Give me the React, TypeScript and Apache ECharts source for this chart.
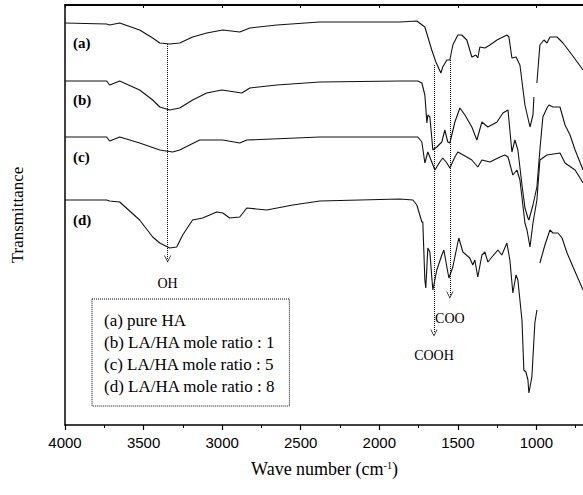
import React, { useEffect, useRef } from "react";
import * as echarts from "echarts";

const seriesNames = [
  "(a) pure HA",
  "(b) LA/HA mole ratio : 1",
  "(c) LA/HA mole ratio : 5",
  "(d) LA/HA mole ratio : 8",
];
const curveTags = ["(a)", "(b)", "(c)", "(d)"];

// [wave number (cm-1), transmittance (a.u.)]; '-' marks a gap in the trace
const curveA: (number | string)[][] = [
  [4000, 402], [3735, 401], [3716, 400], [3652, 402], [3525, 395], [3442, 387], [3397, 382], [3334, 381],
  [3270, 382], [3188, 388], [3098, 392], [2996, 395], [2888, 393], [2824, 397], [2652, 400], [2378, 403],
  [1869, 403], [1761, 404], [1710, 398], [1666, 375], [1640, 363], [1608, 352], [1596, 358], [1570, 365],
  [1551, 365], [1532, 380], [1500, 390], [1475, 390], [1443, 385], [1411, 368], [1385, 370], [1373, 367],
  [1360, 378], [1328, 377], [1296, 380], [1251, 385], [1188, 390], [1175, 388], [1156, 367], [1130, 368],
  [1105, 360], [1073, 320], [1041, 298], [1022, 310], [1016, 328], [1006, "-"], [997, 342], [978, 380],
  [952, 385], [933, 382], [914, 388], [869, 388], [831, 382], [773, 370], [703, 355],
];
const curveB: (number | string)[][] = [
  [4000, 344], [3735, 344], [3716, 340], [3652, 344], [3525, 335], [3442, 325], [3397, 318], [3334, 315],
  [3270, 317], [3188, 325], [3098, 332], [3002, 335], [2875, 332], [2824, 337], [2652, 340], [2378, 343],
  [1869, 344], [1755, 344], [1729, 342], [1710, 330], [1697, 302], [1691, 310], [1678, 308], [1659, 275],
  [1634, 278], [1602, 283], [1583, 295], [1564, 283], [1551, 282], [1519, 303], [1487, 317], [1455, 310],
  [1411, 298], [1379, 285], [1347, 303], [1309, 298], [1251, 303], [1213, 312], [1181, 315], [1156, 273],
  [1137, 285], [1118, 275], [1092, 240], [1073, 217], [1054, 207], [1048, 205], [1022, 220], [997, 238],
  [978, 275], [959, 308], [933, 317], [920, 320], [895, 318], [850, 318], [818, 300], [786, 290],
  [754, 275], [703, 255],
];
const curveC: (number | string)[][] = [
  [4000, 288], [3735, 288], [3716, 284], [3652, 288], [3525, 282], [3397, 275], [3315, 273], [3270, 275],
  [3143, 285], [2996, 285], [2888, 282], [2843, 285], [2378, 288], [1805, 288], [1755, 288], [1729, 283],
  [1710, 262], [1691, 273], [1666, 263], [1646, 255], [1615, 263], [1596, 267], [1570, 262], [1551, 257],
  [1519, 268], [1500, 273], [1443, 268], [1411, 265], [1373, 258], [1347, 265], [1296, 263], [1232, 268],
  [1201, 270], [1181, 268], [1150, 250], [1124, 255], [1105, 245], [1073, 202], [1060, 195], [1041, 178],
  [1022, 202], [997, 225], [978, 265], [933, 270], [850, 272], [818, 262], [754, 255], [703, 242],
];
const curveD: (number | string)[][] = [
  [4000, 225], [3735, 225], [3716, 224], [3652, 223], [3525, 205], [3442, 188], [3397, 182], [3334, 177],
  [3289, 178], [3251, 190], [3188, 205], [3124, 207], [3035, 213], [2996, 212], [2952, 207], [2888, 208],
  [2843, 217], [2716, 215], [2550, 220], [2378, 224], [1869, 226], [1786, 225], [1761, 220], [1729, 203],
  [1723, 203], [1710, 145], [1704, 137], [1691, 177], [1678, 173], [1666, 148], [1659, 135], [1634, 155],
  [1602, 170], [1589, 175], [1570, 158], [1557, 147], [1532, 158], [1506, 178], [1494, 187], [1468, 173],
  [1424, 167], [1405, 160], [1392, 165], [1373, 148], [1347, 170], [1328, 173], [1309, 163], [1283, 168],
  [1245, 175], [1220, 170], [1188, 182], [1169, 165], [1150, 132], [1130, 150], [1118, 145], [1092, 105],
  [1080, 55], [1067, 53], [1054, 45], [1048, 32], [1029, 48], [1010, 102], [997, 115], [988, "-"],
  [978, 162], [946, 180], [914, 195], [895, 192], [863, 192], [837, 187], [805, 172], [767, 158], [703, 135],
];
const curves = [curveA, curveB, curveC, curveD];

// band assignments: wave number, start (on trace) and arrow end
const bandNames = ["OH", "COOH", "COO"];
const bandWave = [3347, 1652, 1551];
const bandFrom = [381, 360, 365];
const bandTo = [166, 92, 130];

const xMin = 500;
const xMax = 4000;
const xStep = 500;
const firstShownTick = 1000;

const SERIF = '"Liberation Serif", "Times New Roman", serif';
const SANS = '"Liberation Sans", Arial, sans-serif';

export default function App() {
  const ref = useRef<HTMLDivElement>(null);
  useEffect(() => {
    if (!ref.current) return;
    const chart = echarts.init(ref.current, undefined, { renderer: "svg" });
    const labelDist = [17, 15, 16];
    const markData = bandNames.map((n, i) => [
      { coord: [bandWave[i], bandFrom[i]] },
      {
        coord: [bandWave[i], bandTo[i]],
        name: n,
        label: { distance: labelDist[i] },
      },
    ]);
    const tagTops = [35, 92, 149, 212];
    const option: any = {
      animation: false,
      backgroundColor: "#fff",
      grid: { left: 65, right: 0, top: 5, bottom: 70, outerBoundsMode: "none", containLabel: false },
      legend: {
        data: seriesNames,
        orient: "vertical",
        left: 92,
        top: 299,
        icon: "none",
        itemWidth: 0,
        itemHeight: 14,
        itemGap: 5,
        padding: [13, 14, 11, 7],
        borderColor: "#000",
        borderWidth: 1,
        borderType: "dotted",
        selectedMode: false,
        textStyle: { fontFamily: SERIF, fontSize: 17, color: "#000" },
      },
      xAxis: [
        {
          type: "value",
          inverse: true,
          min: xMin,
          max: xMax,
          interval: xStep,
          position: "bottom",
          name: "Wave number (cm{sup|-1})",
          nameLocation: "middle",
          nameGap: 35,
          nameTextStyle: {
            fontFamily: SERIF,
            fontSize: 18,
            color: "#000",
            padding: [0, 31, 0, 0],
            rich: {
              sup: { fontFamily: SERIF, fontSize: 10, color: "#000", verticalAlign: "top", padding: [0, 0, 8, 0] },
            },
          },
          axisLine: { show: true, lineStyle: { color: "#000", width: 1.5 } },
          axisTick: { show: true, inside: false, length: 5, lineStyle: { color: "#000", width: 1.2 } },
          minorTick: { show: true, splitNumber: 2, length: 3, lineStyle: { color: "#000", width: 1 } },
          axisLabel: {
            fontFamily: SANS,
            fontSize: 15,
            color: "#000",
            margin: 10,
            formatter: (v: number) => (v < firstShownTick ? "" : String(v)),
          },
          splitLine: { show: false },
        },
        {
          type: "value",
          inverse: true,
          min: xMin,
          max: xMax,
          interval: xStep,
          position: "top",
          axisLine: { show: true, lineStyle: { color: "#000", width: 1.8 } },
          axisTick: { show: true, inside: true, length: 3, lineStyle: { color: "#000" } },
          axisLabel: { show: false },
          splitLine: { show: false },
        },
      ],
      yAxis: {
        type: "value",
        min: 0,
        max: 420,
        name: "Transmittance",
        nameLocation: "middle",
        nameGap: 39,
        nameTextStyle: { fontFamily: SERIF, fontSize: 17, color: "#000" },
        axisLine: { show: true, lineStyle: { color: "#000", width: 1.5 } },
        axisTick: { show: false },
        axisLabel: { show: false },
        splitLine: { show: false },
      },
      graphic: curveTags.map((t, i) => ({
        type: "text",
        left: 73,
        top: tagTops[i],
        style: { text: t, font: `bold 15px ${SERIF}`, fill: "#000" },
      })),
      series: curves.map((c, i) => ({
        name: seriesNames[i],
        type: "line",
        data: c,
        showSymbol: false,
        symbol: "none",
        connectNulls: false,
        lineStyle: { color: "#111", width: 1.1 },
        itemStyle: { color: "#111" },
        silent: true,
        markLine:
          i === 0
            ? {
                silent: true,
                symbol: ["none", "path://M5,0L10,10L9,10L5,2L1,10L0,10Z"],
                symbolSize: [7, 7],
                lineStyle: { type: "dotted", color: "#000", width: 1 },
                label: {
                  show: true,
                  position: "end",
                  formatter: "{b}",
                  fontFamily: SERIF,
                  fontSize: 14,
                  color: "#000",
                },
                data: markData,
              }
            : undefined,
      })),
    };
    chart.setOption(option);
    return () => chart.dispose();
  }, []);
  return (
    <div
      style={{
        position: "absolute",
        left: 0,
        top: 0,
        width: 583,
        height: 495,
        overflow: "hidden",
        background: "#fff",
      }}
    >
      <div ref={ref} style={{ width: 615, height: 495 }} />
    </div>
  );
}
